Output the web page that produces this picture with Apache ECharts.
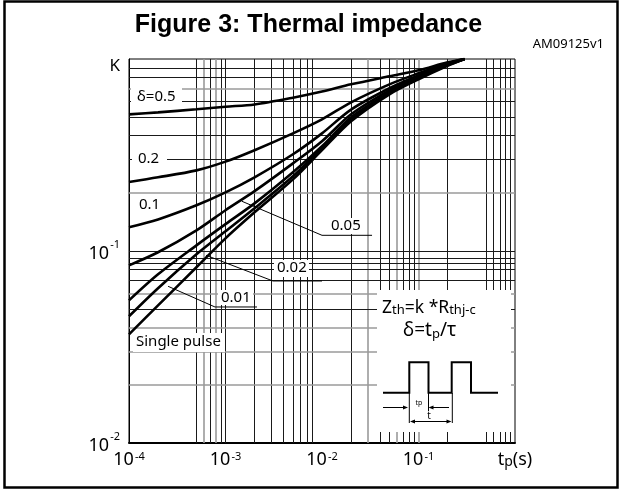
<!DOCTYPE html>
<html>
<head>
<meta charset="utf-8">
<script src="https://cdn.jsdelivr.net/npm/echarts@6/dist/echarts.min.js"></script>
<style>
  html, body { margin: 0; padding: 0; background: #fff; }
  #chart { width: 626px; height: 491px; }
</style>
</head>
<body>
<div id="chart"></div>
<script>
// pulse duration tp (s)
const tp = [1e-4, 2e-4, 5e-4, 1e-3, 2e-3, 5e-3, 1e-2, 2e-2, 5e-2, 1e-1, 2e-1, 0.3];
// K for each duty cycle
const k05 = [0.515, 0.527, 0.547, 0.564, 0.58, 0.629, 0.677, 0.738, 0.813, 0.873, 0.961, 1.0];
const k02 = [0.229, 0.242, 0.263, 0.292, 0.335, 0.410, 0.485, 0.595, 0.738, 0.842, 0.950, 1.0];
const k01 = [0.133, 0.146, 0.173, 0.202, 0.242, 0.319, 0.410, 0.545, 0.704, 0.822, 0.944, 1.0];
const k005 = [0.0842, 0.0985, 0.128, 0.163, 0.205, 0.286, 0.373, 0.515, 0.687, 0.813, 0.938, 1.0];
const k002 = [0.0553, 0.0756, 0.107, 0.138, 0.177, 0.257, 0.351, 0.497, 0.671, 0.803, 0.933, 1.0];
const k001 = [0.0457, 0.064, 0.0961, 0.1266, 0.167, 0.245, 0.343, 0.485, 0.663, 0.793, 0.927, 1.0];
const kSingle = [0.0368, 0.0521, 0.0823, 0.1164, 0.159, 0.236, 0.335, 0.474, 0.655, 0.784, 0.922, 1.0];

// leader lines of the small labels
const lead005 = [[1.48e-3, 0.1815], [0.01, 0.1207], [0.033, 0.1207]];
const lead002 = [[6.28e-4, 0.095], [3.1e-3, 0.0698], [0.01, 0.0698]];
const lead001 = [[2.54e-4, 0.0655], [7.78e-4, 0.0511], [2.12e-3, 0.0511]];

// printed grid of the datasheet
const vGrid = [5e-4, 6e-4, 7e-4, 8e-4, 9e-4, 1e-3, 2e-3, 3e-3, 4e-3, 5e-3, 6e-3, 7e-3, 8e-3,
  2e-2, 3e-2, 4e-2, 5e-2, 6e-2, 7e-2, 8e-2, 9e-2, 1e-1, 2e-1, 5e-1, 6e-1, 7e-1, 8e-1, 9e-1];
const vGray = [6e-4, 8e-4, 3e-2, 6e-2, 1e-1];
const hGrid = [0.02, 0.03, 0.04, 0.05, 0.06, 0.07, 0.08, 0.086, 0.092, 0.1,
  0.2, 0.3, 0.4, 0.5, 0.6, 0.7, 0.8, 0.9];
const hGray = [0.02, 0.03, 0.04, 0.06, 0.2, 0.7];

// tick labels
const xTickText = ['-4', '-3', '-2', '-1'];
const yTickText = ['-2', '-1'];

const chart = echarts.init(document.getElementById('chart'));

function pairs(ys) {
  return tp.map((t, i) => [t, ys[i]]);
}
function curve(name, ys) {
  return {
    name: name, type: 'line', data: pairs(ys), smooth: 0.3,
    showSymbol: false, z: 20, silent: true,
    lineStyle: { color: '#000', width: 2.6 }
  };
}
function leader(pts) {
  return {
    type: 'line', data: pts, showSymbol: false, z: 15, silent: true,
    lineStyle: { color: '#000', width: 1 }
  };
}

const gridMarks = []
  .concat(vGrid.map(v => {
    const g = vGray.indexOf(v) >= 0;
    return { xAxis: v, lineStyle: { color: g ? '#9a9a9a' : '#1a1a1a', width: g ? 1.6 : 1, type: 'solid' } };
  }))
  .concat(hGrid.map(v => {
    const g = hGray.indexOf(v) >= 0;
    return { yAxis: v, lineStyle: { color: g ? '#9a9a9a' : '#1a1a1a', width: g ? 1.6 : 1, type: 'solid' } };
  }));

const font = '"Noto Sans", "Open Sans", sans-serif';

function label(text, x, y, box) {
  return [
    { type: 'rect', z: 10, silent: true, shape: box, style: { fill: '#fff' } },
    { type: 'text', z: 11, silent: true,
      style: { text: text, x: x, y: y, font: '15px ' + font, fill: '#000',
        textAlign: 'left', textVerticalAlign: 'middle', align: 'left', verticalAlign: 'middle' } }
  ];
}

function arrowHead(x, y, dir) {
  return { type: 'polygon', z: 12, silent: true,
    shape: { points: [[x, y], [x - 5 * dir, y - 2], [x - 5 * dir, y + 2]] },
    style: { fill: '#000' } };
}
function seg(x1, y1, x2, y2, w) {
  return { type: 'line', z: 12, silent: true,
    shape: { x1: x1, y1: y1, x2: x2, y2: y2 },
    style: { stroke: '#000', lineWidth: w || 1 } };
}

const graphics = [
  { type: 'rect', z: 30, silent: true, shape: { x: 4.5, y: 1.5, width: 613, height: 486 },
    style: { fill: 'none', stroke: '#000', lineWidth: 2.5 } },
  { type: 'text', z: 30, silent: true,
    style: { text: 'Figure 3: Thermal impedance', x: 308.5, y: 25.5,
      font: 'bold 25px "Liberation Sans", Arial, sans-serif', fill: '#000',
      textAlign: 'center', textVerticalAlign: 'middle', align: 'center', verticalAlign: 'middle' } },
  { type: 'text', z: 30, silent: true,
    style: { text: 'AM09125v1', x: 604, y: 44.5, font: '13px ' + font, fill: '#000',
      textAlign: 'right', textVerticalAlign: 'middle', align: 'right', verticalAlign: 'middle' } }
]
  .concat(label('\u03b4=0.5', 137, 97, { x: 131, y: 86, width: 51, height: 18 }))
  .concat(label('0.2', 138, 159, { x: 132, y: 151, width: 35, height: 17 }))
  .concat(label('0.1', 139, 205, { x: 131, y: 194, width: 32, height: 22 }))
  .concat(label('0.05', 331, 226, { x: 328, y: 218, width: 34, height: 16 }))
  .concat(label('0.02', 277, 268, { x: 274, y: 260, width: 35, height: 17 }))
  .concat(label('0.01', 221, 298, { x: 218, y: 290, width: 35, height: 15 }))
  .concat(label('Single pulse', 136, 342, { x: 133, y: 333, width: 92, height: 19 }))
  .concat([
    { type: 'rect', z: 10, silent: true, shape: { x: 377, y: 290, width: 134, height: 142 }, style: { fill: '#fff' } },
    { type: 'text', z: 11, silent: true,
      style: { text: '{a|Z}{b|th}{a|=k *R}{b|thj-c}', x: 382, y: 308,
        textAlign: 'left', textVerticalAlign: 'middle', align: 'left', verticalAlign: 'middle',
        rich: {
          a: { fontFamily: 'Noto Sans', fontSize: 17.5, fill: '#000', color: '#000', verticalAlign: 'bottom' },
          b: { fontFamily: 'Noto Sans', fontSize: 13, fill: '#000', color: '#000', verticalAlign: 'bottom' }
        } } },
    { type: 'text', z: 11, silent: true,
      style: { text: '{a|\u03b4=t}{b|p}{a|/\u03c4}', x: 403, y: 331,
        textAlign: 'left', textVerticalAlign: 'middle', align: 'left', verticalAlign: 'middle',
        rich: {
          a: { fontFamily: 'Noto Sans', fontSize: 19, fill: '#000', color: '#000', verticalAlign: 'bottom' },
          b: { fontFamily: 'Noto Sans', fontSize: 13, fill: '#000', color: '#000', verticalAlign: 'bottom' }
        } } },
    { type: 'polyline', z: 12, silent: true,
      shape: { points: [[383, 392.7], [409.3, 392.7], [409.3, 362.3], [428.5, 362.3], [428.5, 392.7],
        [451.7, 392.7], [451.7, 362.3], [471, 362.3], [471, 392.7], [498, 392.7]] },
      style: { fill: 'none', stroke: '#000', lineWidth: 2 } },
    seg(383, 407.5, 404, 407.5), arrowHead(408, 407.5, 1),
    seg(449, 407.5, 432, 407.5), arrowHead(428.5, 407.5, -1),
    seg(409.3, 393, 409.3, 423), seg(428.5, 393, 428.5, 411), seg(452.3, 393, 452.3, 423),
    seg(414, 421.5, 448, 421.5), arrowHead(410, 421.5, -1), arrowHead(451.5, 421.5, 1),
    { type: 'text', z: 12, silent: true,
      style: { text: 'tp', x: 419, y: 402.5, font: '7px ' + font, fill: '#000',
        textAlign: 'center', textVerticalAlign: 'middle', align: 'center', verticalAlign: 'middle' } },
    { type: 'text', z: 12, silent: true,
      style: { text: 't', x: 429, y: 416.5, font: '10px ' + font, fill: '#000',
        textAlign: 'center', textVerticalAlign: 'middle', align: 'center', verticalAlign: 'middle' } }
  ]);

const option = {
  animation: false,
  grid: { left: 129, right: 111, top: 59, bottom: 48, show: true, borderColor: '#000', borderWidth: 1, backgroundColor: 'transparent' },
  xAxis: {
    type: 'log', logBase: 10, min: 1e-4, max: 1,
    splitLine: { show: false }, axisTick: { show: false },
    axisLine: { lineStyle: { color: '#000', width: 2 } },
    axisLabel: {
      margin: 8, color: '#000',
      formatter: function (v, i) {
        if (i < xTickText.length) return '{b|10}{s|' + xTickText[i] + '}';
        return '{b|t}{p|p}{b|(s)}';
      },
      rich: {
        b: { fontFamily: font, fontSize: 18, color: '#000' },
        s: { fontFamily: font, fontSize: 11, color: '#000', verticalAlign: 'top', padding: [0, 0, 0, 1] },
        p: { fontFamily: font, fontSize: 14, color: '#000', verticalAlign: 'bottom' }
      }
    }
  },
  yAxis: {
    type: 'log', logBase: 10, min: 0.01, max: 1,
    splitLine: { show: false }, axisTick: { show: false },
    axisLine: { show: true, lineStyle: { color: '#000', width: 1 } },
    axisLabel: {
      margin: 9, color: '#000',
      formatter: function (v, i) {
        if (i < yTickText.length) return '{b|10}{s|' + yTickText[i] + '}';
        return '{k|K}';
      },
      rich: {
        b: { fontFamily: font, fontSize: 18, color: '#000', padding: [6, 0, 0, 0] },
        s: { fontFamily: font, fontSize: 11, color: '#000', verticalAlign: 'top', padding: [0, 0, 0, 1] },
        k: { fontFamily: font, fontSize: 17, color: '#000', padding: [14, 0, 0, 0] }
      }
    }
  },
  graphic: { elements: graphics },
  series: [
    { type: 'line', data: [], z: 1, silent: true,
      markLine: { symbol: 'none', silent: true, animation: false, precision: 10,
        label: { show: false }, data: gridMarks } },
    curve('0.5', k05),
    curve('0.2', k02),
    curve('0.1', k01),
    curve('0.05', k005),
    curve('0.02', k002),
    curve('0.01', k001),
    curve('Single pulse', kSingle),
    leader(lead005),
    leader(lead002),
    leader(lead001)
  ]
};

chart.setOption(option);
</script>
</body>
</html>
